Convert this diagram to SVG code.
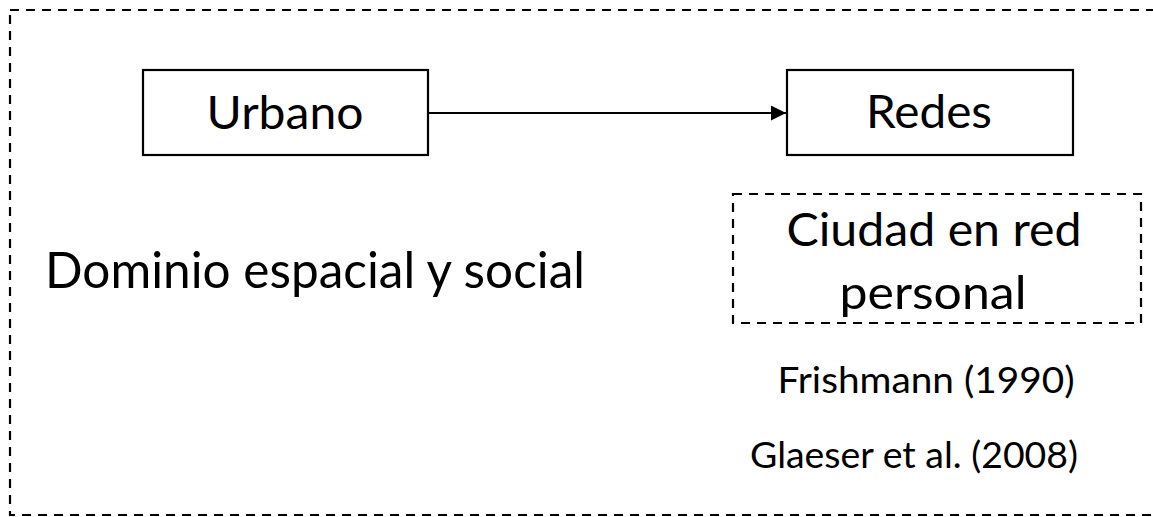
<svg xmlns="http://www.w3.org/2000/svg" width="1153" height="517" viewBox="0 0 1153 517">
  <style>
    .box { fill: #ffffff; stroke: #000000; stroke-width: 2.2; }
    .dash { fill: none; stroke: #000000; stroke-width: 2.2; stroke-dasharray: 9 7; }
    .t { font-family: Lato, "Open Sans", "Liberation Sans", sans-serif; fill: #000000; }
    .big { font-size: 47px; }
    .dom { font-size: 50px; }
    .small { font-size: 37px; }
    .conn { stroke: #000000; stroke-width: 2.2; fill: none; }
  </style>
  <defs>
    <marker id="arrow" markerUnits="userSpaceOnUse" markerWidth="16" markerHeight="16" refX="15" refY="7.5" orient="auto">
      <path d="M0,0 L15,7.5 L0,15 Z" fill="#000000"/>
    </marker>
  </defs>
  <rect width="1153" height="517" fill="#ffffff"/>
  <g id="frame">
    <rect class="dash" x="10" y="10" width="1150" height="505"/>
  </g>
  <g id="connectors">
    <line class="conn" x1="428" y1="113" x2="786" y2="113" marker-end="url(#arrow)"/>
  </g>
  <g id="node-urbano">
    <rect class="box" x="143" y="70" width="285" height="85"/>
    <text class="t big" x="285" y="129" text-anchor="middle" textLength="157" lengthAdjust="spacingAndGlyphs">Urbano</text>
  </g>
  <g id="node-redes">
    <rect class="box" x="787" y="70" width="286" height="85"/>
    <text class="t big" x="929" y="128" text-anchor="middle" textLength="126" lengthAdjust="spacingAndGlyphs">Redes</text>
  </g>
  <g id="label-dominio">
    <text class="t dom" x="45" y="288" textLength="540" lengthAdjust="spacingAndGlyphs">Dominio espacial y social</text>
  </g>
  <g id="node-ciudad">
    <rect class="dash" x="733" y="194" width="408" height="129"/>
    <text class="t big" x="934" y="246" text-anchor="middle" textLength="295" lengthAdjust="spacingAndGlyphs">Ciudad en red</text>
    <text class="t big" x="933" y="309" text-anchor="middle" textLength="187" lengthAdjust="spacingAndGlyphs">personal</text>
  </g>
  <g id="label-citas">
    <text class="t small" x="926" y="393" text-anchor="middle" textLength="297" lengthAdjust="spacingAndGlyphs">Frishmann (1990)</text>
    <text class="t small" x="914" y="468" text-anchor="middle" textLength="328" lengthAdjust="spacingAndGlyphs">Glaeser et al. (2008)</text>
  </g>
</svg>
